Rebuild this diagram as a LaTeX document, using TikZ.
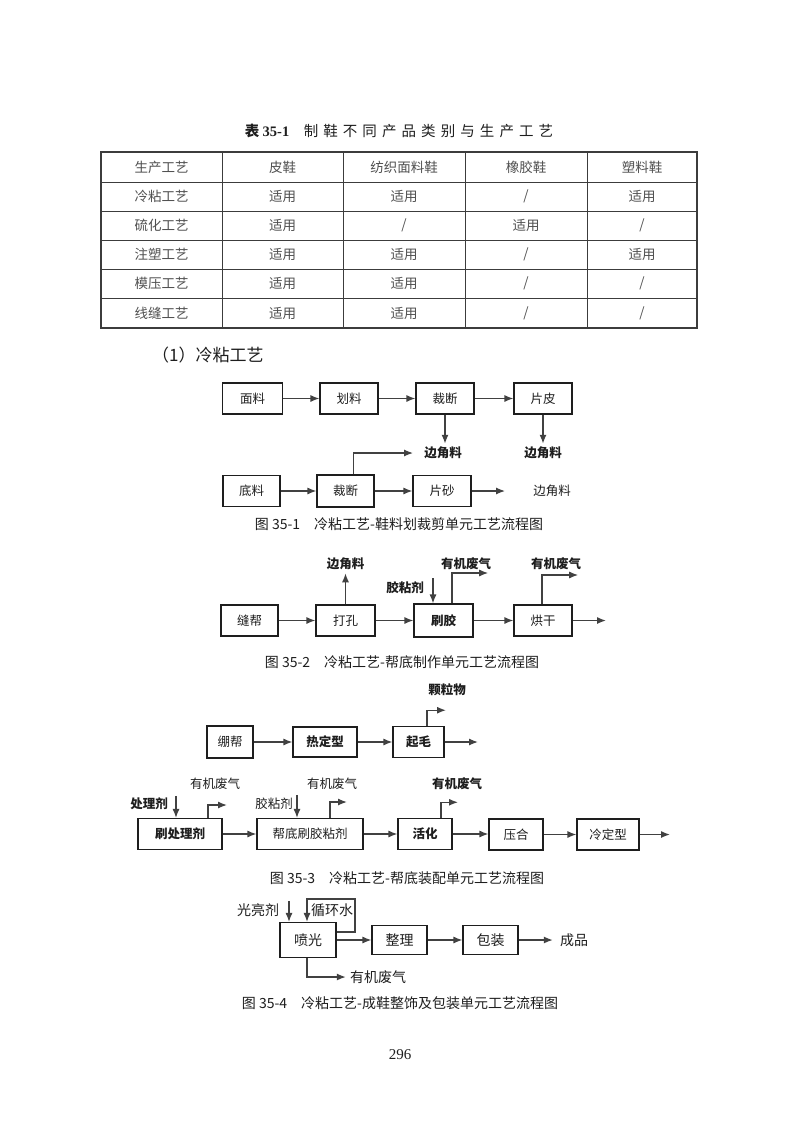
\documentclass[tikz,border=0pt]{standalone}
\usepackage{fontspec}
\setmainfont{Noto Sans CJK SC}
\newfontfamily\serif{Liberation Serif}
\newfontfamily\spaced[LetterSpace=35]{Noto Sans CJK SC}
\usetikzlibrary{arrows.meta, calc}
\definecolor{ink}{RGB}{30,30,30}
\definecolor{tink}{RGB}{80,80,80}
\definecolor{aline}{RGB}{65,65,65}
\definecolor{tline}{RGB}{60,60,60}
\tikzset{
  box/.style={rectangle, draw=ink, line width=1.1pt, minimum height=31pt, inner sep=0pt,
    font=\fontsize{12.5}{14}\selectfont, text=ink},
  bigbox/.style={box, minimum height=29pt, font=\fontsize{14}{16}\selectfont},
  lbl/.style={inner sep=1pt, font=\fontsize{12.5}{14}\selectfont, text=ink},
  lblb/.style={lbl, font=\fontsize{12.5}{14}\selectfont\bfseries},
  biglbl/.style={lbl, font=\fontsize{14}{16}\selectfont},
  arr/.style={-{Latex[length=9pt,width=7pt]}, line width=1.3pt, color=aline},
  cell/.style={font=\fontsize{13.5}{15}\selectfont, text=tink, inner sep=0pt},
  figcap/.style={font=\fontsize{14}{16}\selectfont, text=ink, inner sep=0pt}
}

\begin{document}
\begin{tikzpicture}[x=1pt, y=-1pt]
\fill[white] (0,0) rectangle (793,1122);
\useasboundingbox (0,0) rectangle (793,1122);

% Table 35-1
\node[figcap, font=\fontsize{14.5}{16}\selectfont] (tcap) at (399,131)
  {{\bfseries 表 \serif 35-1}\quad{\spaced 制鞋不同产品类别与生产工艺}};
\foreach \x in {222,343,465,587}
  \draw[tline, line width=0.8pt] (\x,152) -- (\x,328);
\foreach \y in {182,211.2,240.4,269.6,298.8}
  \draw[tline, line width=0.8pt] (101,\y) -- (697,\y);
\draw[tline, line width=1.3pt] (101,152) rectangle (697,328);
\def\colxs{{161.5,282.5,404,526,642}}
\foreach \row [count=\r] in {{生产工艺,皮鞋,纺织面料鞋,橡胶鞋,塑料鞋},
    {冷粘工艺,适用,适用,/,适用},{硫化工艺,适用,/,适用,/},
    {注塑工艺,适用,适用,/,适用},{模压工艺,适用,适用,/,/},
    {线缝工艺,适用,适用,/,/}}
  \foreach \txt [count=\c] in \row {
    \pgfmathsetmacro\cx{\colxs[\c-1]}
    \pgfmathsetmacro\cy{167+(\r-1)*29.2}
    \node[cell] (c\r-\c) at (\cx,\cy) {\txt};
  }

\node[anchor=west, inner sep=0pt, text=ink, font=\fontsize{17}{20}\selectfont] (sec) at (152,355) {（1）冷粘工艺};

% Fig 35-1
\node[box, minimum width=60pt] (ml) at (252.5,398.5) {面料};
\node[box, minimum width=58pt] (hl) at (349,398.5) {划料};
\node[box, minimum width=58pt] (cd1) at (445,398.5) {裁断};
\node[box, minimum width=58pt] (pp) at (543,398.5) {片皮};
\node[lblb] (bj1) at (443,453) {边角料};
\node[lblb] (bj2) at (543,453) {边角料};
\node[box, minimum width=57pt] (dl) at (251.5,491) {底料};
\node[box, minimum width=57pt, minimum height=32pt] (cd2) at (345.5,491) {裁断};
\node[box, minimum width=58pt] (ps) at (442,491) {片砂};
\node[lbl] (bj3) at (552,491) {边角料};
\draw[arr] (ml) -- (hl);
\draw[arr] (hl) -- (cd1);
\draw[arr] (cd1) -- (pp);
\draw[arr, shorten >=2pt] (cd1.south) -- (cd1.south |- bj1.north);
\draw[arr, shorten >=2pt] (pp.south) -- (pp.south |- bj2.north);
\draw[arr] (dl) -- (cd2);
\draw[arr] (cd2) -- (ps);
\draw[arr, shorten >=27pt] (ps) -- (bj3);
\draw[arr] ([xshift=8pt]cd2.north) |- ([xshift=-10pt]bj1.west);
\node[figcap] (cap1) at (399,524) {图 35-1\quad 冷粘工艺-鞋料划裁剪单元工艺流程图};

% Fig 35-2
\node[box, minimum width=57pt] (fb) at (249.5,620.5) {缝帮};
\node[box, minimum width=59pt] (dk) at (345.5,620.5) {打孔};
\node[box, minimum width=59pt, minimum height=33pt, font=\fontsize{12.5}{14}\selectfont\bfseries] (sj) at (443.5,620.5) {刷胶};
\node[box, minimum width=58pt] (hg) at (543,620.5) {烘干};
\node[lblb] (bj4) at (345.5,564) {边角料};
\node[lblb] (jn1) at (405,588) {胶粘剂};
\node[lblb] (yj1) at (466,564) {有机废气};
\node[lblb] (yj2) at (556,564) {有机废气};
\coordinate (hg-out) at (606,620.5);
\draw[arr] (fb) -- (dk);
\draw[arr] (dk) -- (sj);
\draw[arr] (sj) -- (hg);
\draw[arr] (hg) -- (hg-out);
\draw[arr, shorten >=2pt] (dk.north) -- (bj4.south);
\draw[arr] ([xshift=-10.5pt,yshift=25pt]sj.north) -- ([xshift=-10.5pt]sj.north);
\draw[arr] ([xshift=8.5pt]sj.north) |- ([xshift=-4pt,yshift=-9pt]yj1.east);
\draw[arr] ([xshift=-1pt]hg.north) |- ([xshift=-4pt,yshift=-11pt]yj2.east);
\node[figcap] (cap2) at (402,662) {图 35-2\quad 冷粘工艺-帮底制作单元工艺流程图};

% Fig 35-3
\node[box, minimum width=46pt, minimum height=32pt] (bb) at (230,742) {绷帮};
\node[box, minimum width=64pt, minimum height=30pt, font=\fontsize{12.5}{14}\selectfont\bfseries] (rdx) at (325,742) {热定型};
\node[box, minimum width=51pt, font=\fontsize{12.5}{14}\selectfont\bfseries] (qm) at (418.5,742) {起毛};
\node[lblb] (klw) at (447,690) {颗粒物};
\coordinate (qm-out) at (478,742);
\draw[arr] (bb) -- (rdx);
\draw[arr] (rdx) -- (qm);
\draw[arr] (qm) -- (qm-out);
\draw[arr] ([xshift=8.5pt]qm.north) |- ([xshift=-1pt,yshift=-13pt]klw.south);

\node[box, minimum width=84pt, font=\fontsize{12.5}{14}\selectfont\bfseries] (scl) at (180,834) {刷处理剂};
\node[box, minimum width=106pt] (bdsj) at (310,834) {帮底刷胶粘剂};
\node[box, minimum width=54pt, font=\fontsize{12.5}{14}\selectfont\bfseries] (hh) at (425,834) {活化};
\node[box, minimum width=54pt] (yh) at (516,834.5) {压合};
\node[box, minimum width=62pt] (ldx) at (608,834.5) {冷定型};
\node[lblb] (cl) at (149,804) {处理剂};
\node[lbl] (yj3) at (215,784) {有机废气};
\node[lbl] (jn2) at (274,804) {胶粘剂};
\node[lbl] (yj4) at (332,784) {有机废气};
\node[lblb] (yj5) at (457,784) {有机废气};
\coordinate (ldx-out) at (670,834.5);
\draw[arr] (scl) -- (bdsj);
\draw[arr] (bdsj) -- (hh);
\draw[arr] (hh) -- (hh -| yh.west);
\draw[arr] (yh) -- (ldx);
\draw[arr] (ldx) -- (ldx-out);
\draw[arr] ([xshift=-4pt,yshift=22pt]scl.north) -- ([xshift=-4pt]scl.north);
\draw[arr] ([xshift=28pt]scl.north) |- ([xshift=12pt,yshift=-14pt]yj3.south);
\draw[arr] ([xshift=-13pt,yshift=23pt]bdsj.north) -- ([xshift=-13pt]bdsj.north);
\draw[arr] ([xshift=20pt]bdsj.north) |- ([xshift=15pt,yshift=-11pt]yj4.south);
\draw[arr] ([xshift=16pt]hh.north) |- ([xshift=1pt,yshift=-11pt]yj5.south);
\node[figcap] (cap3) at (407,878) {图 35-3\quad 冷粘工艺-帮底装配单元工艺流程图};

% Fig 35-4
\node[bigbox, minimum width=56pt, minimum height=35pt] (pg) at (308,940) {喷光};
\node[bigbox, minimum width=55pt] (zl) at (399.5,940) {整理};
\node[bigbox, minimum width=55pt] (bz) at (490.5,940) {包装};
\node[biglbl] (gld) at (258,910) {光亮剂};
\node[biglbl] (xhs) at (332,910) {循环水};
\node[biglbl] (cp) at (574,940) {成品};
\node[biglbl] (yj6) at (378,977) {有机废气};
\coordinate (xh-c) at (355,899);
\draw[arr] (pg) -- (zl);
\draw[arr] (zl) -- (bz);
\draw[arr, shorten >=6pt] (bz) -- (cp);
\draw[arr] ([xshift=-19pt,yshift=21pt]pg.north) -- ([xshift=-19pt]pg.north);
\draw[arr] ([yshift=8pt]pg.east) -| (xh-c) -| ([xshift=-1pt]pg.north);
\draw[arr, shorten >=3pt] ([xshift=-1pt]pg.south) |- (yj6.west);
\node[figcap] (cap4) at (400,1003) {图 35-4\quad 冷粘工艺-成鞋整饰及包装单元工艺流程图};

\node[inner sep=0pt, text=ink, font=\serif\fontsize{15}{17}\selectfont] (pnum) at (400,1055) {296};
\end{tikzpicture}
\end{document}
